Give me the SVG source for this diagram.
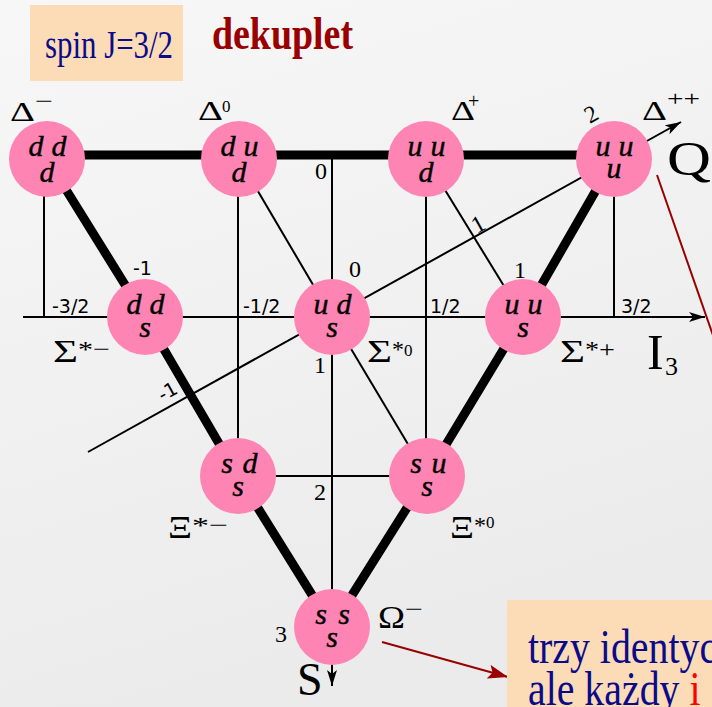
<svg xmlns="http://www.w3.org/2000/svg" width="712" height="707" viewBox="0 0 712 707">
<defs>
  <linearGradient id="bg" x1="0" y1="0" x2="0.3" y2="1">
    <stop offset="0" stop-color="#f7f7f7"/>
    <stop offset="1" stop-color="#ebebeb"/>
  </linearGradient>
  <marker id="arr" markerUnits="userSpaceOnUse" markerWidth="18" markerHeight="12" refX="16" refY="5" orient="auto">
    <path d="M0,0 L16,5 L0,10 L4,5 z" fill="#000"/>
  </marker>
  <marker id="arrRed" markerUnits="userSpaceOnUse" markerWidth="22" markerHeight="16" refX="20" refY="7" orient="auto">
    <path d="M0,0 L20,7 L0,14 L4,7 z" fill="#990000"/>
  </marker>
  <style>
    .node{fill:#fd84b3}
    .qk{font-family:"Liberation Serif","Times New Roman",serif;font-style:italic;font-size:30px;fill:#000;stroke:#000;stroke-width:0.4;text-anchor:middle}
    .thin{stroke:#000;stroke-width:2;fill:none}
    .thick{stroke:#000;stroke-width:9;fill:none;stroke-linejoin:round}
    .red{stroke:#990000;stroke-width:2;fill:none}
    .gr{font-family:"Liberation Serif","Times New Roman",serif;fill:#000}
    .num{font-family:"Liberation Serif","Times New Roman",serif;font-size:24px;fill:#000;text-anchor:middle}
    .frac{font-family:"DejaVu Sans","Liberation Sans",Arial,sans-serif;font-size:19px;fill:#000}
    .box{fill:#fbdcb7}
    .blue{font-family:"Liberation Serif","Times New Roman",serif;fill:#0a0a8a}
  </style>
</defs>
<rect x="0" y="0" width="712" height="707" fill="url(#bg)"/>

<!-- title boxes -->
<g id="spin-box">
  <rect class="box" x="30" y="5" width="153" height="76"/>
  <text class="blue" x="45" y="58" font-size="40" textLength="128" lengthAdjust="spacingAndGlyphs">spin J=3/2</text>
</g>
<g id="title">
  <text x="212" y="49" font-family="'Liberation Serif','Times New Roman',serif" font-weight="bold" font-size="46" fill="#990000" textLength="141" lengthAdjust="spacingAndGlyphs">dekuplet</text>
</g>

<!-- connectors -->
<g id="connectors">
  <line class="thin" x1="23" y1="317" x2="705" y2="317" marker-end="url(#arr)"/>
  <line class="thin" x1="332" y1="155" x2="332" y2="686" marker-end="url(#arr)"/>
  <line class="thin" x1="88" y1="452" x2="681" y2="122" marker-end="url(#arr)"/>
  <line class="thin" x1="44" y1="159" x2="44" y2="317"/>
  <line class="thin" x1="238" y1="159" x2="238" y2="476"/>
  <line class="thin" x1="426" y1="159" x2="426" y2="476"/>
  <line class="thin" x1="614" y1="159" x2="614" y2="317"/>
  <line class="thin" x1="238" y1="476" x2="427" y2="476"/>
  <line class="thin" x1="239" y1="159" x2="332" y2="317"/>
  <line class="thin" x1="426" y1="159" x2="523" y2="317"/>
  <line class="thin" x1="332" y1="317" x2="427" y2="476"/>
  <line class="thick" x1="47" y1="155" x2="614" y2="155"/>
  <polyline class="thick" points="47,159 145,317 238,476 332,627"/>
  <polyline class="thick" points="614,159 523,317 427,476 332,627"/>
  <line class="red" x1="657" y1="175" x2="730" y2="384"/>
  <line class="red" x1="382" y1="642" x2="508" y2="677" marker-end="url(#arrRed)"/>
</g>

<!-- nodes -->
<g id="delta-minus">
  <circle class="node" cx="47" cy="159" r="38"/>
  <text class="qk" x="36 59" y="156">dd</text>
  <text class="qk" x="47" y="182">d</text>
  <text class="gr" x="10" y="121" font-size="27" textLength="25" lengthAdjust="spacingAndGlyphs">Δ</text>
  <text class="gr" x="35" y="109" font-size="24" textLength="18" lengthAdjust="spacingAndGlyphs">−</text>
</g>
<g id="delta-0">
  <circle class="node" cx="239" cy="159" r="38"/>
  <text class="qk" x="228 251" y="156">du</text>
  <text class="qk" x="239" y="182">d</text>
  <text class="gr" x="198" y="120" font-size="27" textLength="25" lengthAdjust="spacingAndGlyphs">Δ</text>
  <text class="gr" x="222" y="112" font-size="17">0</text>
</g>
<g id="delta-plus">
  <circle class="node" cx="426" cy="159" r="38"/>
  <text class="qk" x="415 438" y="156">uu</text>
  <text class="qk" x="426" y="182">d</text>
  <text class="gr" x="451" y="120" font-size="27" textLength="24" lengthAdjust="spacingAndGlyphs">Δ</text>
  <text class="gr" x="468" y="108" font-size="20">+</text>
</g>
<g id="delta-plusplus">
  <circle class="node" cx="614" cy="159" r="38"/>
  <text class="qk" x="603 626" y="156">uu</text>
  <text class="qk" x="614" y="178">u</text>
  <text class="gr" x="642" y="120" font-size="27" textLength="25" lengthAdjust="spacingAndGlyphs">Δ</text>
  <text class="gr" x="667" y="106" font-size="20" textLength="33" lengthAdjust="spacingAndGlyphs">++</text>
</g>
<g id="sigma-minus">
  <circle class="node" cx="145" cy="317" r="38"/>
  <text class="qk" x="134 157" y="314">dd</text>
  <text class="qk" x="145" y="337">s</text>
  <text class="gr" x="53" y="362" font-size="32" textLength="25" lengthAdjust="spacingAndGlyphs">Σ</text>
  <text class="gr" x="78" y="357" font-size="24" textLength="32" lengthAdjust="spacingAndGlyphs">*−</text>
</g>
<g id="sigma-0">
  <circle class="node" cx="332" cy="317" r="38"/>
  <text class="qk" x="321 344" y="314">ud</text>
  <text class="qk" x="332" y="337">s</text>
  <text class="gr" x="367" y="362" font-size="32" textLength="25" lengthAdjust="spacingAndGlyphs">Σ</text>
  <text class="gr" x="392" y="357" font-size="24">*</text>
  <text class="gr" x="404" y="356" font-size="17">0</text>
</g>
<g id="sigma-plus">
  <circle class="node" cx="523" cy="317" r="38"/>
  <text class="qk" x="512 535" y="314">uu</text>
  <text class="qk" x="523" y="337">s</text>
  <text class="gr" x="560" y="362" font-size="32" textLength="25" lengthAdjust="spacingAndGlyphs">Σ</text>
  <text class="gr" x="585" y="357" font-size="24" textLength="30" lengthAdjust="spacingAndGlyphs">*+</text>
</g>
<g id="xi-minus">
  <circle class="node" cx="238" cy="476" r="38"/>
  <text class="qk" x="227 250" y="473">sd</text>
  <text class="qk" x="238" y="496">s</text>
  <text class="gr" x="168" y="538" font-size="32" textLength="24" lengthAdjust="spacingAndGlyphs">Ξ</text>
  <text class="gr" x="192" y="533" font-size="24" textLength="36" lengthAdjust="spacingAndGlyphs">*−</text>
</g>
<g id="xi-0">
  <circle class="node" cx="427" cy="476" r="38"/>
  <text class="qk" x="416 439" y="473">su</text>
  <text class="qk" x="427" y="496">s</text>
  <text class="gr" x="450" y="538" font-size="32" textLength="24" lengthAdjust="spacingAndGlyphs">Ξ</text>
  <text class="gr" x="474" y="533" font-size="24">*</text>
  <text class="gr" x="486" y="528" font-size="17">0</text>
</g>
<g id="omega-minus">
  <circle class="node" cx="332" cy="627" r="38"/>
  <text class="qk" x="321 344" y="624">ss</text>
  <text class="qk" x="332" y="647">s</text>
  <text class="gr" x="378" y="628" font-size="32" textLength="27" lengthAdjust="spacingAndGlyphs">Ω</text>
  <text class="gr" x="405" y="617" font-size="24" textLength="18" lengthAdjust="spacingAndGlyphs">−</text>
</g>

<!-- axis numbers -->
<g id="axis-labels">
  <text class="num" x="321" y="179">0</text>
  <text class="num" x="355" y="277">0</text>
  <text class="num" x="520" y="278">1</text>
  <text class="num" x="320" y="373">1</text>
  <text class="num" x="320" y="500">2</text>
  <text class="num" x="281" y="642">3</text>
  <text class="frac" x="133" y="275" font-size="18">-1</text>
  <text class="frac" x="52" y="313">-3/2</text>
  <text class="frac" x="243" y="313">-1/2</text>
  <text class="frac" x="430" y="313">1/2</text>
  <text class="frac" x="621" y="313">3/2</text>
  <text class="frac" x="168" y="398" font-size="18" text-anchor="middle" transform="rotate(-29 168 392)">-1</text>
  <text class="num" x="478" y="232" transform="rotate(-29 478 224)">1</text>
  <text class="num" x="591" y="122" transform="rotate(-29 591 114)">2</text>
  <text class="gr" x="667" y="175" font-size="48" textLength="44" lengthAdjust="spacingAndGlyphs">Q</text>
  <text class="gr" x="647" y="369" font-size="50">I</text>
  <text class="gr" x="665" y="375" font-size="26">3</text>
  <text class="gr" x="297" y="695" font-size="46">S</text>
</g>

<!-- bottom-right note (clipped at the picture edge, as in the reference) -->
<g id="note">
  <rect class="box" x="507" y="600" width="210" height="110"/>
  <g transform="translate(528,0) scale(0.83,1)">
    <text class="blue" x="0" y="663" font-size="48">trzy identyc</text>
    <text class="blue" x="0" y="705" font-size="48">ale każdy <tspan fill="#ff0000">i</tspan></text>
  </g>
</g>
</svg>
